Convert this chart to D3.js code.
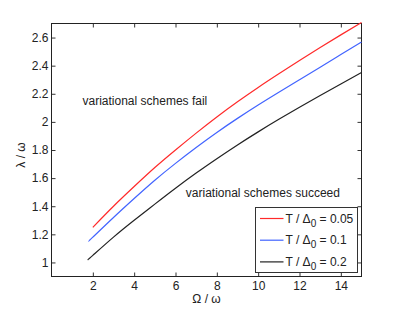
<!DOCTYPE html>
<html>
<head>
<meta charset="utf-8">
<script src="https://cdn.jsdelivr.net/npm/d3@7"></script>
<style>
  body { margin: 0; background: #fff; }
  text { font-family: "Liberation Sans", Arial, Helvetica, sans-serif; }
</style>
</head>
<body>
<div id="viz"></div>
<script>
var xTicks = [2, 4, 6, 8, 10, 12, 14],
    yTicks = [1, 1.2, 1.4, 1.6, 1.8, 2, 2.2, 2.4, 2.6];

// values
var omegaRed = [2, 3, 4, 5, 6, 7, 8, 9, 10, 11, 12, 13, 14, 15],
    lambdaRed = [1.25, 1.40, 1.54, 1.675, 1.80, 1.92, 2.035, 2.143, 2.245, 2.342, 2.437, 2.529, 2.619, 2.707];
var omegaBlue = [1.8, 2, 3, 4, 5, 6, 7, 8, 9, 10, 11, 12, 13, 14, 15],
    lambdaBlue = [1.152, 1.18, 1.32, 1.455, 1.585, 1.705, 1.818, 1.925, 2.025, 2.12, 2.211, 2.30, 2.389, 2.479, 2.569];
var omegaBlack = [1.75, 2, 3, 4, 5, 6, 7, 8, 9, 10, 11, 12, 13, 14, 15],
    lambdaBlack = [1.018, 1.05, 1.18, 1.30, 1.415, 1.528, 1.636, 1.738, 1.836, 1.929, 2.018, 2.104, 2.188, 2.27, 2.351];

var seriesNames = ['0.05', '0.1', '0.2'],
    seriesColors = ['#ff2a2a', '#4264ff', '#222222'];

var margin = { top: 23.5, right: 37.5, bottom: 35.5, left: 51.5 },
    width = 399 - margin.left - margin.right,
    height = 312 - margin.top - margin.bottom;

var series = [
  { name: seriesNames[0], color: seriesColors[0], pts: d3.zip(omegaRed, lambdaRed) },
  { name: seriesNames[1], color: seriesColors[1], pts: d3.zip(omegaBlue, lambdaBlue) },
  { name: seriesNames[2], color: seriesColors[2], pts: d3.zip(omegaBlack, lambdaBlack) }
];

var xScale = d3.scaleLinear().domain([0, 15]).range([0, width]),
    yScale = d3.scaleLinear().domain([0.9, 2.7]).range([height, 0]);

var svg = d3.select('#viz').append('svg')
  .attr('width', 399)
  .attr('height', 312);

var g = svg.append('g')
  .attr('transform', 'translate(' + margin.left + ',' + margin.top + ')');

// axes, ticks pointing inward like matlab
var xAxis = g.append('g')
  .attr('transform', 'translate(0,' + height + ')')
  .call(d3.axisBottom(xScale).tickValues(xTicks).tickSizeInner(-4).tickSizeOuter(0).tickPadding(5));
var yAxis = g.append('g')
  .call(d3.axisLeft(yScale).tickValues(yTicks).tickSizeInner(-4).tickSizeOuter(0).tickPadding(3)
    .tickFormat(d3.format('')));
var xTop = g.append('g')
  .call(d3.axisTop(xScale).tickValues(xTicks).tickSizeInner(-4).tickSizeOuter(0).tickFormat(''));
var yRight = g.append('g')
  .attr('transform', 'translate(' + width + ',0)')
  .call(d3.axisRight(yScale).tickValues(yTicks).tickSizeInner(-4).tickSizeOuter(0).tickFormat(''));

g.selectAll('.domain').remove();
g.selectAll('.tick line').attr('stroke', '#333');
g.selectAll('.tick text').attr('font-size', 12).attr('fill', '#222')
  .style('font-family', '"Liberation Sans", Arial, sans-serif');

g.append('rect')
  .attr('width', width)
  .attr('height', height)
  .attr('fill', 'none')
  .attr('stroke', '#222')
  .attr('stroke-width', 1);

var line = d3.line()
  .x(function(d) { return xScale(d[0]); })
  .y(function(d) { return yScale(d[1]); })
  .curve(d3.curveNatural);

g.selectAll('path.curve').data(series)
  .enter().append('path')
  .attr('class', 'curve')
  .attr('d', function(d) { return line(d.pts); })
  .attr('fill', 'none')
  .attr('stroke', function(d) { return d.color; })
  .attr('stroke-width', 1.2);

// annotations
g.append('text')
  .attr('x', xScale(1.5))
  .attr('y', yScale(2.12))
  .attr('font-size', 12)
  .attr('fill', '#222')
  .text('variational schemes fail');

g.append('text')
  .attr('x', xScale(6.5))
  .attr('y', yScale(1.466))
  .attr('font-size', 12)
  .attr('fill', '#222')
  .text('variational schemes succeed');

// legend
var legend = svg.append('g')
  .attr('transform', 'translate(255.5,207.5)');

legend.append('rect')
  .attr('width', 102)
  .attr('height', 65)
  .attr('fill', '#fff')
  .attr('stroke', '#333')
  .attr('stroke-width', 1);

var items = legend.selectAll('g.item').data(series)
  .enter().append('g')
  .attr('class', 'item')
  .attr('transform', function(d, i) { return 'translate(0,' + (11 + i * 21.7) + ')'; });

items.append('line')
  .attr('x1', 4.5).attr('x2', 28)
  .attr('stroke', function(d) { return d.color; })
  .attr('stroke-width', 1.2);

var lt = items.append('text')
  .attr('x', 30)
  .attr('y', 4)
  .attr('font-size', 12)
  .attr('fill', '#222');
lt.append('tspan').text('T / \u0394');
lt.append('tspan').attr('font-size', 10).attr('dy', 4).text('0');
lt.append('tspan').attr('dy', -4).text(function(d) { return ' = ' + d.name; });

// axis labels
svg.append('text')
  .attr('x', margin.left + width / 2)
  .attr('y', 303)
  .attr('text-anchor', 'middle')
  .attr('font-size', 12)
  .attr('fill', '#222')
  .text('\u03a9 / \u03c9');

svg.append('text')
  .attr('transform', 'translate(25,155) rotate(-90)')
  .attr('text-anchor', 'middle')
  .attr('font-size', 12)
  .attr('fill', '#222')
  .text('\u03bb / \u03c9');
</script>
</body>
</html>
